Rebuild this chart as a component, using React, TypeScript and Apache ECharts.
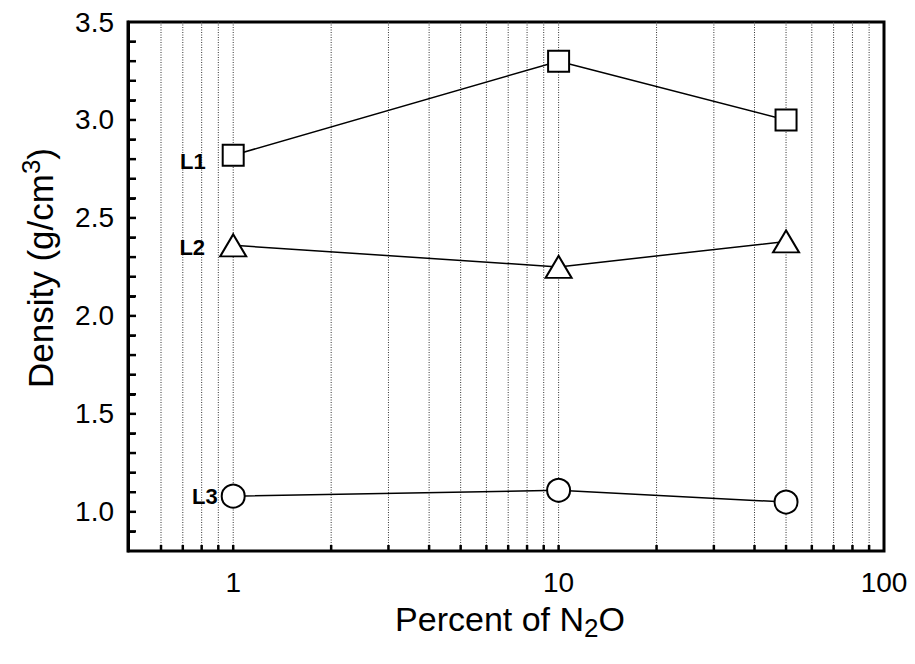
import React, { useEffect, useRef } from 'react';
import * as echarts from 'echarts';

// ---- data ----
const percentN2O = [1, 10, 50];
const densityL1 = [2.82, 3.3, 3.0];
const densityL2 = [2.36, 2.25, 2.38];
const densityL3 = [1.08, 1.11, 1.05];
const seriesNames = ['L1', 'L2', 'L3'];
const xTickLabels = [1, 10, 100];
const yTickLabels = [1.0, 1.5, 2.0, 2.5, 3.0, 3.5];
const xGridValues = [0.6, 0.7, 0.8, 0.9, 1, 2, 3, 4, 5, 6, 7, 8, 9, 10, 20, 30, 40, 50, 60, 70, 80, 90];
const yTickValues = [0.9, 1.0, 1.1, 1.2, 1.3, 1.4, 1.5, 1.6, 1.7, 1.8, 1.9, 2.0, 2.1, 2.2, 2.3, 2.4, 2.5, 2.6, 2.7, 2.8, 2.9, 3.0, 3.1, 3.2, 3.3, 3.4];
const X_MIN = 0.475;
const X_MAX = 100;
const Y_MIN = 0.8;
const Y_MAX = 3.5;

const FONT = 'Arial, "Liberation Sans", Helvetica, sans-serif';

export default function App() {
  const ref = useRef<HTMLDivElement>(null);

  useEffect(() => {
    if (!ref.current) return;
    const chart = echarts.init(ref.current, undefined, { renderer: 'svg' });

    const makeSeries = (name: string, values: number[], symbol: string, size: any, labelDist: number, labelOffset: number[]) => ({
      type: 'line',
      name,
      z: 3,
      data: percentN2O.map((x, i) => [x, values[i]]),
      symbol,
      symbolSize: size,
      showAllSymbol: true,
      lineStyle: { color: '#000', width: 1.5 },
      itemStyle: { color: '#fff', borderColor: '#000', borderWidth: 2 },
      label: {
        show: true,
        position: 'left',
        distance: labelDist,
        offset: labelOffset,
        formatter: (p: any) => (p.dataIndex === 0 ? name : ''),
        fontFamily: FONT,
        fontWeight: 'bold',
        fontSize: 22,
        color: '#000',
      },
      emphasis: { disabled: true },
    });

    const titles: any[] = [
      {
        type: 'text',
        id: 'xTitle',
        x: 510,
        y: 619,
        style: {
          text: 'Percent of N{sub|2}O',
          fill: '#000',
          fontFamily: FONT,
          fontSize: 34,
          align: 'center',
          verticalAlign: 'middle',
          textAlign: 'center',
          textVerticalAlign: 'middle',
          lineHeight: 44,
          rich: {
            sub: { fontFamily: FONT, fontSize: 26, lineHeight: 24, verticalAlign: 'bottom', fill: '#000' },
          },
        },
      },
      {
        type: 'text',
        id: 'yTitle',
        x: 40,
        y: 268,
        rotation: Math.PI / 2,
        style: {
          text: 'Density (g/cm{sup|3})',
          fill: '#000',
          fontFamily: FONT,
          fontSize: 35,
          align: 'center',
          verticalAlign: 'middle',
          textAlign: 'center',
          textVerticalAlign: 'middle',
          lineHeight: 44,
          rich: {
            sup: { fontFamily: FONT, fontSize: 26, lineHeight: 24, verticalAlign: 'top', fill: '#000' },
          },
        },
      },
    ];

    chart.setOption({
      animation: false,
      backgroundColor: '#fff',
      grid: {
        left: 128,
        right: 31,
        top: 22,
        bottom: 113,
        show: true,
        borderColor: '#000',
        borderWidth: 3,
        backgroundColor: 'transparent',
      },
      xAxis: {
        type: 'log',
        logBase: 10,
        min: X_MIN,
        max: X_MAX,
        axisLine: { show: false, onZero: false },
        axisTick: { show: false },
        splitLine: { show: false },
        axisLabel: {
          fontFamily: FONT,
          fontSize: 28,
          color: '#000',
          margin: 17,
          formatter: (v: number) => {
            const t = xTickLabels.find((t) => Math.abs(t - v) / t < 1e-6);
            return t !== undefined ? String(t) : '';
          },
        },
      },
      yAxis: {
        type: 'value',
        min: Y_MIN,
        max: Y_MAX,
        interval: 0.1,
        axisLine: { show: true, onZero: false, lineStyle: { color: '#000', width: 3 } },
        splitLine: { show: false },
        axisTick: { show: true, inside: true, length: 7, lineStyle: { color: '#000', width: 2 } },
        axisLabel: {
          fontFamily: FONT,
          fontSize: 28,
          color: '#000',
          margin: 14,
          formatter: (v: number) => {
            const t = yTickLabels.find((t) => Math.abs(t - v) < 1e-6);
            return t !== undefined ? t.toFixed(1) : '';
          },
        },
      },
      graphic: titles,
      series: [
        {
          type: 'custom',
          silent: true,
          z: 1,
          clip: false,
          data: xGridValues.map((v) => [v, Y_MIN]),
          encode: { x: 0, y: 1 },
          renderItem: (_params: any, api: any) => {
            const x = api.value(0);
            const top = api.coord([x, Y_MAX]);
            const bottom = api.coord([x, Y_MIN]);
            return {
              type: 'group',
              children: [
                {
                  type: 'line',
                  shape: { x1: top[0], y1: top[1], x2: bottom[0], y2: bottom[1] },
                  style: { stroke: '#333', lineWidth: 1, lineDash: [1, 1.5] },
                },
                {
                  type: 'rect',
                  shape: { x: bottom[0] - 1.25, y: bottom[1] - 6, width: 2.5, height: 6 },
                  style: { fill: '#000' },
                },
              ],
            };
          },
        },
        makeSeries(seriesNames[0], densityL1, 'rect', 21, 16, [0, 6]),
        makeSeries(seriesNames[1], densityL2, 'triangle', [26, 22], 14, [0, 2]),
        makeSeries(seriesNames[2], densityL3, 'circle', 23, 3, [0, 0]),
      ],
    });

    // y-axis inner ticks, positioned through the chart's own scales
    const leftEdge = chart.convertToPixel({ gridIndex: 0 }, [X_MIN, Y_MIN]) as number[];
    const tickRects = yTickValues.map((v, i) => {
      const p = chart.convertToPixel({ gridIndex: 0 }, [X_MIN, v]) as number[];
      return {
        type: 'rect',
        id: 'ytick' + i,
        z: 50,
        silent: true,
        shape: { x: leftEdge[0], y: p[1] - 1.25, width: 8, height: 2.5 },
        style: { fill: '#000' },
      };
    });
    chart.setOption({ graphic: [...titles, ...tickRects] });

    return () => chart.dispose();
  }, []);

  return (
    <div
      ref={ref}
      style={{ position: 'absolute', left: 0, top: 0, width: 915, height: 664, background: '#fff' }}
    />
  );
}
